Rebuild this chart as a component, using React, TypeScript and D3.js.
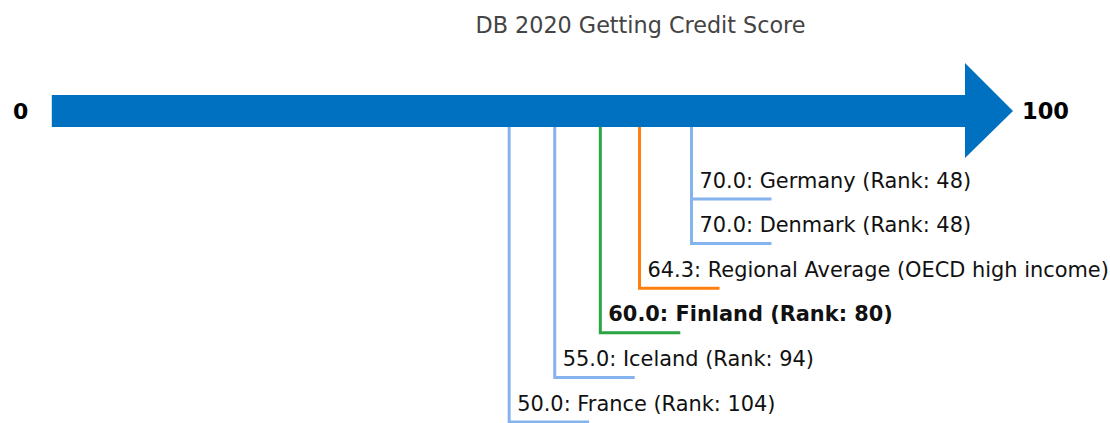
import React from "react";
import * as d3 from "d3";

const title = "DB 2020 Getting Credit Score";
const economies = ["France", "Iceland", "Finland", "Regional Average (OECD high income)", "Denmark", "Germany"];
const scores = [50.0, 55.0, 60.0, 64.3, 70.0, 70.0];
const ranks: (number | null)[] = [104, 94, 80, null, 48, 48];
const kinds = ["peer", "peer", "focus", "regional", "peer", "peer"];
const axisMin = 0;
const axisMax = 100;

const W = 1110;
const H = 423;

const colorFor: Record<string, string> = {
  peer: "#85b3ee",
  focus: "#2ca444",
  regional: "#ff7f0e",
};

export default function App() {
  const x = d3.scaleLinear().domain([axisMin, axisMax]).range([53.3, 965]);
  const y = d3.scalePoint<number>().domain(d3.range(economies.length)).range([422, 199]);

  const shaftTop = 95;
  const shaftBot = 127;
  const shaftMid = (shaftTop + shaftBot) / 2;
  const headBase = x(axisMax);
  const arrowPath = d3.path();
  arrowPath.moveTo(x(axisMin) - 1.5, shaftTop);
  arrowPath.lineTo(headBase, shaftTop);
  arrowPath.lineTo(headBase, 63);
  arrowPath.lineTo(headBase + 48, shaftMid);
  arrowPath.lineTo(headBase, 158);
  arrowPath.lineTo(headBase, shaftBot);
  arrowPath.lineTo(x(axisMin) - 1.5, shaftBot);
  arrowPath.closePath();

  const font = "'DejaVu Sans', sans-serif";

  return (
    <svg width={W} height={H} style={{ position: "absolute", left: 0, top: 0, background: "#fff" }} fontFamily={font}>
      <text x={640.5} y={33} textAnchor="middle" fontSize={22.3} fill="#444">{title}</text>
      {economies.map((name, i) => {
        const xv = x(scores[i]);
        const yv = y(i)!;
        const path = d3.line()([[xv, shaftMid], [xv, yv], [xv + 80, yv]]);
        const label = `${scores[i].toFixed(1)}: ${name}` + (ranks[i] !== null ? ` (Rank: ${ranks[i]})` : "");
        return (
          <g key={name}>
            <path d={path!} fill="none" stroke={colorFor[kinds[i]]} strokeWidth={3} />
            <text x={xv + 8} y={yv - 11.5} fontSize={20.9} fill="#111" fontWeight={kinds[i] === "focus" ? "bold" : "normal"}>{label}</text>
          </g>
        );
      })}
      <path d={arrowPath.toString()} fill="#0070c0" />
      <text x={x(axisMin) - 25} y={shaftMid} textAnchor="end" dominantBaseline="central" fontSize={22} fontWeight="bold" fill="#000">{axisMin}</text>
      <text x={headBase + 57} y={shaftMid} textAnchor="start" dominantBaseline="central" fontSize={22.5} fontWeight="bold" fill="#000">{axisMax}</text>
    </svg>
  );
}
